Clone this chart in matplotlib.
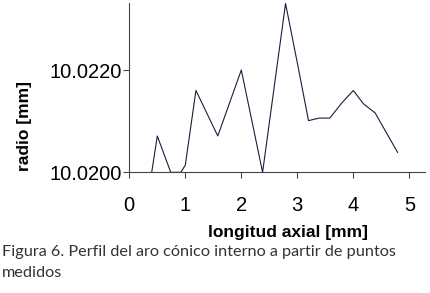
import numpy as np
import matplotlib
matplotlib.use('Agg')
import matplotlib.pyplot as plt

# longitud axial [mm] vs radio [mm]
longitud = [0.40, 0.50, 0.74, 0.92, 1.00, 1.19, 1.58, 2.00, 2.38, 2.79, 3.00,
            3.20, 3.39, 3.58, 3.79, 4.00, 4.18, 4.39, 4.79]
radio = [10.0200, 10.02071, 10.0200, 10.0200, 10.02014, 10.0216, 10.02071, 10.0220,
         10.0200, 10.0233, 10.02214, 10.02101, 10.02106, 10.02106, 10.02135,
         10.0216, 10.02134, 10.02116, 10.02039]
xticks = [0, 1, 2, 3, 4, 5]
yticks = [10.0200, 10.0220]

plt.rcParams['font.family'] = ['Liberation Sans', 'DejaVu Sans']
fig = plt.figure(figsize=(4.3, 2.93), dpi=100)
ax = fig.add_axes([129.3/430, 1-172.3/293, (425-129.3)/430, (172.3-3)/293])

ax.plot(longitud, radio, color='#1c1c3c', lw=0.8)
ax.set_xlim(0, 5.28)
ax.set_ylim(10.0200, 10.02331)
ax.set_xticks(xticks)
ax.set_yticks(yticks)
ax.set_yticklabels(['%.4f' % v for v in yticks])
ax.tick_params(labelsize=14.5, length=4, width=0.8, color='#444444', pad=1)
ax.tick_params(axis='x', pad=13)
for s in ['top', 'right']:
    ax.spines[s].set_visible(False)
for s in ['left', 'bottom']:
    ax.spines[s].set_color('#444444')
    ax.spines[s].set_linewidth(0.8)

fig.text(25/430, 1-126/293, 'radio [mm]', rotation=90, ha='center', va='center',
         fontsize=12.5, fontweight='bold')
fig.text(287.5/430, 1-233/293, 'longitud axial [mm]', ha='center', va='center',
         fontsize=12.5, fontweight='bold')
fig.text(2/430, 1-245/293, 'Figura 6. Perfil del aro cónico interno a partir de puntos\nmedidos',
         ha='left', va='top', fontsize=11.7, family=['Lato', 'DejaVu Sans'],
         color='#333333', linespacing=1.6)

fig.savefig('out.png', dpi=100)
